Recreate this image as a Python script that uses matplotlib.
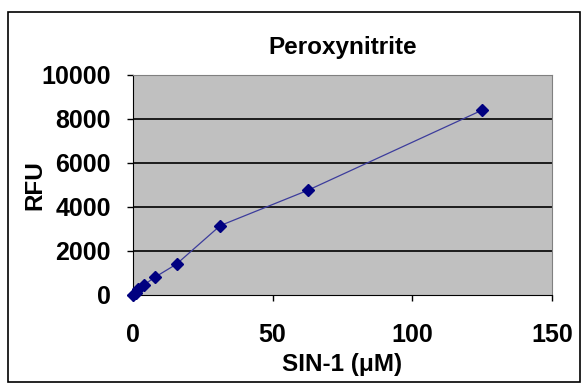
import matplotlib
matplotlib.use("Agg")
import matplotlib.pyplot as plt
from matplotlib.patches import Rectangle

# Dados
sin1_um = [0, 0.98, 1.95, 3.9, 7.8, 15.6, 31.25, 62.5, 125]
rfu = [0, 100, 250, 450, 800, 1400, 3150, 4750, 8400]
yticks = [0, 2000, 4000, 6000, 8000, 10000]
xticks = [0, 50, 100, 150]

plt.rcParams["font.family"] = ["Liberation Sans", "DejaVu Sans"]
plt.rcParams["font.weight"] = "bold"

fig = plt.figure(figsize=(5.83, 3.84), dpi=100)
fig.patch.set_facecolor("white")

# Borda externa do grafico
fig.patches.append(Rectangle((0.014, 0.006), 0.98, 0.963, transform=fig.transFigure,
                             fill=False, edgecolor="black", linewidth=1.2))

ax = fig.add_axes([0.228, 0.232, 0.719, 0.573])
ax.set_facecolor("#C0C0C0")

for y in yticks[1:-1]:
    ax.axhline(y, color="black", linewidth=1.2, zorder=1)

ax.plot(sin1_um, rfu, color="#3C3C9C", linewidth=0.9, marker="D",
        markersize=6, markerfacecolor="#000080", markeredgecolor="#000080", zorder=3,
        clip_on=False)

ax.set_xlim(0, 150)
ax.set_ylim(0, 10000)
ax.set_xticks(xticks)
ax.set_yticks(yticks)
ax.tick_params(axis="both", direction="out", length=4, width=1, labelsize=18)
ax.tick_params(axis="x", pad=16)
ax.tick_params(axis="y", pad=12)

ax.spines["left"].set_color("black")
ax.spines["bottom"].set_color("black")
ax.spines["top"].set_color("#808080")
ax.spines["right"].set_color("#808080")

ax.set_title("Peroxynitrite", fontsize=17.5, fontweight="bold", pad=15)
ax.set_xlabel("SIN-1 (μM)", fontsize=17.5, fontweight="bold", labelpad=4.5)
ax.set_ylabel("RFU", fontsize=17.5, fontweight="bold", labelpad=-4)

plt.savefig("out.png", dpi=100)
